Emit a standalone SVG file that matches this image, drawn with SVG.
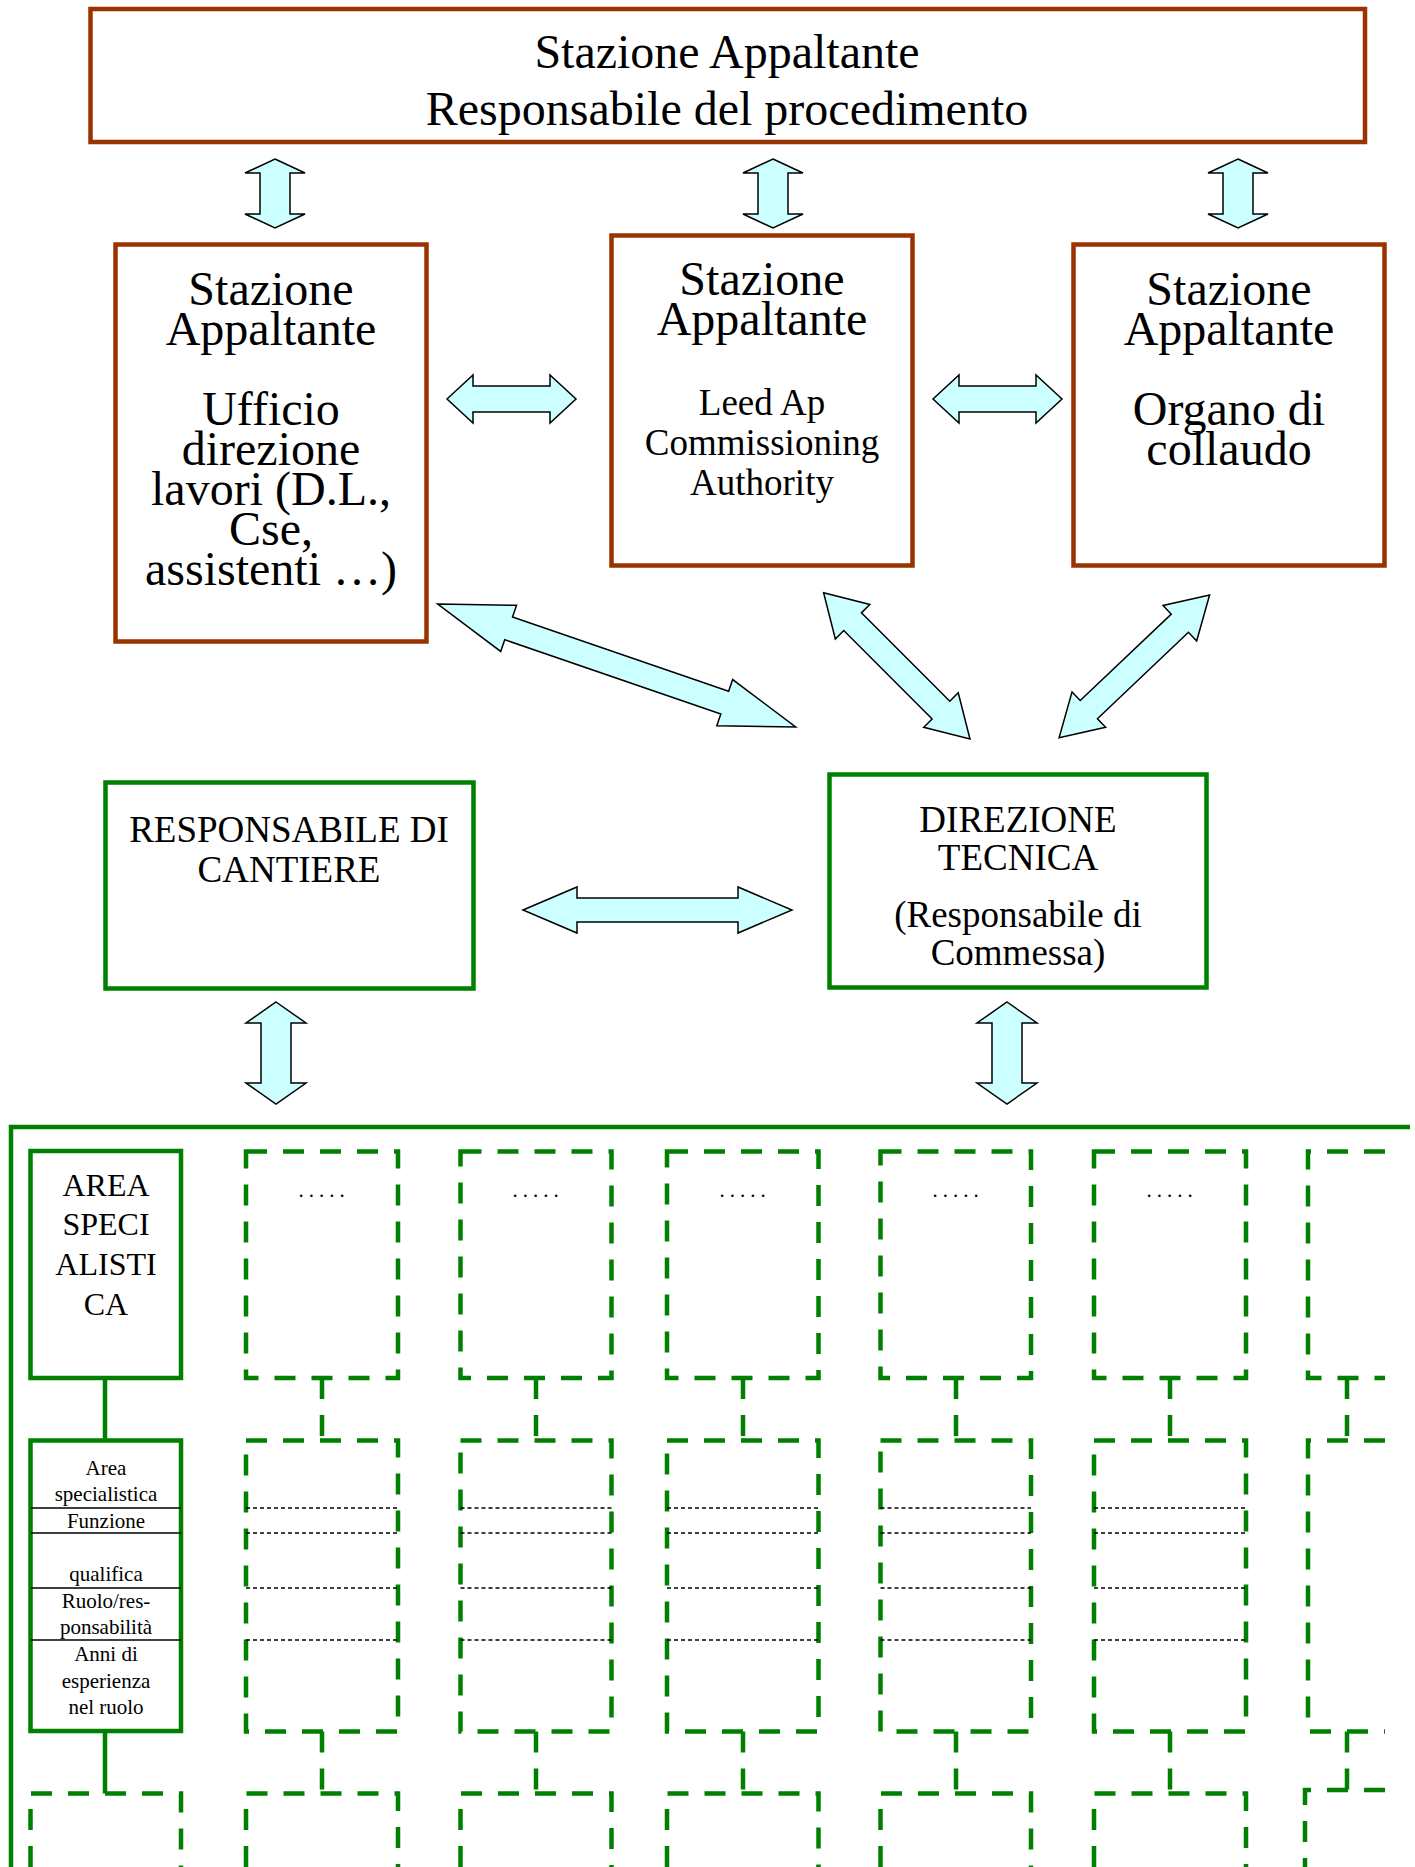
<svg xmlns="http://www.w3.org/2000/svg" xmlns:xlink="http://www.w3.org/1999/xlink" width="1415" height="1867" viewBox="0 0 1415 1867">
<style>
.brown{fill:#fff;stroke:#993300;stroke-width:4.5}
.green{fill:#fff;stroke:#008000;stroke-width:4.5}
.gline{fill:none;stroke:#008000;stroke-width:4.5}
.dash{fill:none;stroke:#008000;stroke-width:4.5;stroke-dasharray:21 16}
.thin{stroke:#000;stroke-width:1.3}
.thind{stroke:#000;stroke-width:1.3;stroke-dasharray:4 3}
.arrow{fill:#ccffff;stroke:#000;stroke-width:1.5;stroke-linejoin:miter}
text{font-family:"Liberation Serif","Times New Roman",serif;fill:#000;text-anchor:middle}
.t48{font-size:48px}
.t37{font-size:37px}
.t32{font-size:32px}
.t21{font-size:21px}
.dots{font-size:21px;letter-spacing:5px}
</style>
<defs>
<path id="vArrowS" d="M0,0 L30,14 L15,14 L15,55 L30,55 L0,69 L-30,55 L-15,55 L-15,14 L-30,14 Z"/>
<path id="vArrowL" d="M0,0 L30,21 L15,21 L15,81 L30,81 L0,102 L-30,81 L-15,81 L-15,21 L-30,21 Z"/>
<path id="hArrowS" d="M0,0 L26,-24 L26,-13 L103,-13 L103,-24 L129,0 L103,24 L103,13 L26,13 L26,24 Z"/>
</defs>
<rect width="1415" height="1867" fill="#fff"/>

<g id="connectors">
<use href="#vArrowS" xlink:href="#vArrowS" class="arrow" transform="translate(275,159)"/>
<use href="#vArrowS" xlink:href="#vArrowS" class="arrow" transform="translate(773,159)"/>
<use href="#vArrowS" xlink:href="#vArrowS" class="arrow" transform="translate(1238,159)"/>
<use href="#hArrowS" xlink:href="#hArrowS" class="arrow" transform="translate(447,399)"/>
<use href="#hArrowS" xlink:href="#hArrowS" class="arrow" transform="translate(933,399)"/>
<path class="arrow" transform="translate(437.7,604) rotate(18.96)" d="M0,0 L75,-24.4 L75,-12 L303.5,-12 L303.5,-24.4 L378.5,0 L303.5,24.4 L303.5,12 L75,12 L75,24.4 Z"/>
<path class="arrow" transform="translate(823.6,592.7) rotate(45)" d="M0,0 L41,-24.4 L41,-12.5 L166,-12.5 L166,-24.4 L207,0 L166,24.4 L166,12.5 L41,12.5 L41,24.4 Z"/>
<path class="arrow" transform="translate(1209.6,595) rotate(136.5)" d="M0,0 L41,-24.4 L41,-12.5 L166.5,-12.5 L166.5,-24.4 L207.5,0 L166.5,24.4 L166.5,12.5 L41,12.5 L41,24.4 Z"/>
<path class="arrow" d="M523,910 L577,887 L577,898 L738,898 L738,887 L792,910 L738,933 L738,922 L577,922 L577,933 Z"/>
<use href="#vArrowL" xlink:href="#vArrowL" class="arrow" transform="translate(276,1002)"/>
<use href="#vArrowL" xlink:href="#vArrowL" class="arrow" transform="translate(1007,1002)"/>
<!-- solid connectors of first column -->
<path class="gline" d="M105,1378 V1440.5 M105,1731 V1793.5"/>
<!-- dashed connectors -->
<path class="dash" d="M322,1378 V1440.5 M322,1731.5 V1793.5 M536,1378 V1440.5 M536,1731.5 V1793.5 M743,1378 V1440.5 M743,1731.5 V1793.5 M956,1378 V1440.5 M956,1731.5 V1793.5 M1170,1378 V1440.5 M1170,1731.5 V1793.5 M1347,1378 V1440.5 M1347,1731.5 V1791"/>
</g>

<g id="node-top">
<rect class="brown" x="90.5" y="9" width="1274.5" height="133"/>
<text class="t48" x="727" y="68">Stazione Appaltante</text>
<text class="t48" x="727" y="125">Responsabile del procedimento</text>
</g>

<g id="node-dl">
<rect class="brown" x="115.5" y="244.5" width="311" height="397"/>
<text class="t48" x="271" y="305">Stazione</text>
<text class="t48" x="271" y="345">Appaltante</text>
<text class="t48" x="271" y="425">Ufficio</text>
<text class="t48" x="271" y="465">direzione</text>
<text class="t48" x="271" y="505">lavori (D.L.,</text>
<text class="t48" x="271" y="545">Cse,</text>
<text class="t48" x="271" y="585">assistenti …)</text>
</g>

<g id="node-leed">
<rect class="brown" x="611.5" y="235.5" width="301" height="330"/>
<text class="t48" x="762" y="295">Stazione</text>
<text class="t48" x="762" y="335">Appaltante</text>
<text class="t37" x="762" y="415">Leed Ap</text>
<text class="t37" x="762" y="455">Commissioning</text>
<text class="t37" x="762" y="495">Authority</text>
</g>

<g id="node-collaudo">
<rect class="brown" x="1073.5" y="244.5" width="311" height="321"/>
<text class="t48" x="1229" y="305">Stazione</text>
<text class="t48" x="1229" y="345">Appaltante</text>
<text class="t48" x="1229" y="425">Organo di</text>
<text class="t48" x="1229" y="465">collaudo</text>
</g>

<g id="node-cantiere">
<rect class="green" x="105.5" y="782.5" width="368" height="206"/>
<text class="t37" x="289" y="842">RESPONSABILE DI</text>
<text class="t37" x="289" y="882">CANTIERE</text>
</g>

<g id="node-direzione">
<rect class="green" x="829.5" y="774.5" width="377" height="213"/>
<text class="t37" x="1018" y="832">DIREZIONE</text>
<text class="t37" x="1018" y="870">TECNICA</text>
<text class="t37" x="1018" y="927">(Responsabile di</text>
<text class="t37" x="1018" y="965">Commessa)</text>
</g>

<g id="container">
<path class="gline" d="M11,1867 V1127 H1410"/>
</g>

<g id="node-area">
<rect class="green" x="30.5" y="1151" width="150.5" height="227"/>
<text class="t32" x="106" y="1196">AREA</text>
<text class="t32" x="106" y="1235">SPECI</text>
<text class="t32" x="106" y="1275">ALISTI</text>
<text class="t32" x="106" y="1315">CA</text>
</g>

<g id="node-table">
<rect class="green" x="30.5" y="1440.5" width="150.5" height="290.5"/>
<path class="thin" d="M31,1508 H181 M31,1533 H181 M31,1588 H181 M31,1640 H181"/>
<text class="t21" x="106" y="1475">Area</text>
<text class="t21" x="106" y="1501">specialistica</text>
<text class="t21" x="106" y="1528">Funzione</text>
<text class="t21" x="106" y="1581">qualifica</text>
<text class="t21" x="106" y="1608">Ruolo/res-</text>
<text class="t21" x="106" y="1634">ponsabilità</text>
<text class="t21" x="106" y="1661">Anni di</text>
<text class="t21" x="106" y="1688">esperienza</text>
<text class="t21" x="106" y="1714">nel ruolo</text>
</g>

<g id="node-col0-row3">
<path class="dash" d="M30.5,1867 V1793.5 H181 V1867"/>
</g>

<g id="node-col1">
<rect class="dash" x="246" y="1151.5" width="152" height="226.5"/>
<text class="dots" x="324" y="1197">.....</text>
<rect class="dash" x="246" y="1440.5" width="152" height="291"/>
<path class="thind" d="M246,1508 H398 M246,1533 H398 M246,1588 H398 M246,1640 H398"/>
<path class="dash" d="M246,1867 V1793.5 H398 V1867"/>
</g>

<g id="node-col2">
<rect class="dash" x="460.5" y="1151.5" width="151" height="226.5"/>
<text class="dots" x="538" y="1197">.....</text>
<rect class="dash" x="460.5" y="1440.5" width="151" height="291"/>
<path class="thind" d="M460.5,1508 H611.5 M460.5,1533 H611.5 M460.5,1588 H611.5 M460.5,1640 H611.5"/>
<path class="dash" d="M460.5,1867 V1793.5 H611.5 V1867"/>
</g>

<g id="node-col3">
<rect class="dash" x="667" y="1151.5" width="151.5" height="226.5"/>
<text class="dots" x="745" y="1197">.....</text>
<rect class="dash" x="667" y="1440.5" width="151.5" height="291"/>
<path class="thind" d="M667,1508 H818.5 M667,1533 H818.5 M667,1588 H818.5 M667,1640 H818.5"/>
<path class="dash" d="M667,1867 V1793.5 H818.5 V1867"/>
</g>

<g id="node-col4">
<rect class="dash" x="880.5" y="1151.5" width="150.5" height="226.5"/>
<text class="dots" x="958" y="1197">.....</text>
<rect class="dash" x="880.5" y="1440.5" width="150.5" height="291"/>
<path class="thind" d="M880.5,1508 H1031 M880.5,1533 H1031 M880.5,1588 H1031 M880.5,1640 H1031"/>
<path class="dash" d="M880.5,1867 V1793.5 H1031 V1867"/>
</g>

<g id="node-col5">
<rect class="dash" x="1094" y="1151.5" width="152" height="226.5"/>
<text class="dots" x="1172" y="1197">.....</text>
<rect class="dash" x="1094" y="1440.5" width="152" height="291"/>
<path class="thind" d="M1094,1508 H1246 M1094,1533 H1246 M1094,1588 H1246 M1094,1640 H1246"/>
<path class="dash" d="M1094,1867 V1793.5 H1246 V1867"/>
</g>

<g id="node-col6">
<path class="dash" d="M1385,1151.5 H1308 V1378 H1385"/>
<path class="dash" d="M1385,1440.5 H1308 V1731.5 H1385"/>
<path class="dash" d="M1385,1790 H1305 V1867"/>
</g>
</svg>
